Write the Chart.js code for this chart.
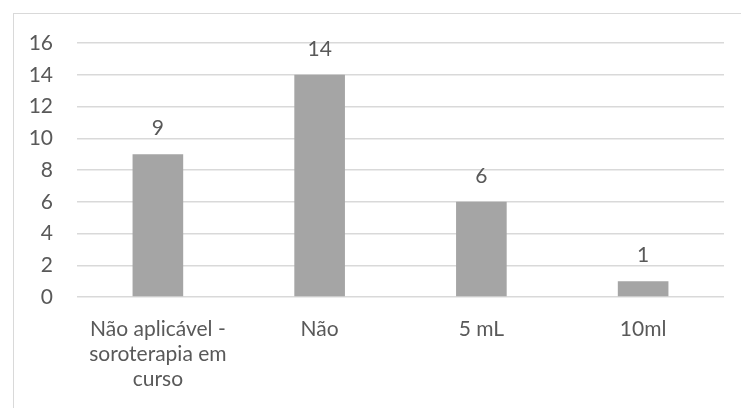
<!DOCTYPE html>
<html>
<head>
<meta charset="utf-8">
<script src="https://cdn.jsdelivr.net/npm/chart.js@4.4.1/dist/chart.umd.min.js"></script>
<style>
  html, body { margin: 0; padding: 0; background: #fff; }
  #wrap { position: relative; width: 741px; height: 408px; overflow: hidden; }
  #frame {
    position: absolute; left: 13px; top: 13px; width: 760px; height: 420px;
    border: 1px solid #d9d9d9; box-sizing: border-box;
  }
  #chart { position: absolute; left: 0; top: 0; }
</style>
</head>
<body>
<div id="wrap">
  <div id="frame"></div>
  <canvas id="chart" width="741" height="408"></canvas>
</div>
<script>
const categories = [['Não aplicável -', 'soroterapia em', 'curso'], 'Não', '5 mL', '10ml'];
const counts = [9, 14, 6, 1];
const yTicks = [0, 2, 4, 6, 8, 10, 12, 14, 16];

const textColor = '#595959';
const fontFamily = 'Lato, "Open Sans", sans-serif';
const fontSize = 21;

// value labels above each bar
const valueLabels = {
  id: 'valueLabels',
  afterDatasetsDraw(chart) {
    const ctx = chart.ctx;
    const meta = chart.getDatasetMeta(0);
    ctx.save();
    ctx.fillStyle = textColor;
    ctx.font = fontSize + 'px ' + fontFamily;
    ctx.textAlign = 'center';
    ctx.textBaseline = 'bottom';
    meta.data.forEach((bar, i) => {
      ctx.fillText(String(counts[i]), bar.x, bar.y - 15);
    });
    ctx.restore();
  }
};

const config = {
  type: 'bar',
  data: {
    labels: categories,
    datasets: [{
      data: counts,
      backgroundColor: '#a5a5a5',
      borderWidth: 0,
      categoryPercentage: 1,
      barPercentage: 0.313
    }]
  },
  options: {
    responsive: false,
    animation: false,
    layout: { padding: { top: 43, right: 17, left: 0, bottom: 0 } },
    plugins: {
      legend: { display: false },
      tooltip: { enabled: false }
    },
    scales: {
      x: {
        grid: { display: false },
        border: { display: false },
        ticks: {
          color: textColor,
          font: { family: fontFamily, size: fontSize, lineHeight: 1.19 },
          padding: 12,
          maxRotation: 0,
          autoSkip: false
        },
        afterFit(scale) { scale.height = 111; }
      },
      y: {
        min: 0,
        max: 16,
        afterBuildTicks(scale) { scale.ticks = yTicks.map(v => ({ value: v })); },
        grid: { color: '#d9d9d9', lineWidth: 1.5, drawTicks: false },
        border: { display: false },
        ticks: {
          color: textColor,
          font: { family: fontFamily, size: fontSize },
          padding: 24
        },
        afterFit(scale) { scale.width = 77; }
      }
    }
  },
  plugins: [valueLabels]
};

const ctx = document.getElementById('chart');
window.myBar = new Chart(ctx, config);
</script>
</body>
</html>
